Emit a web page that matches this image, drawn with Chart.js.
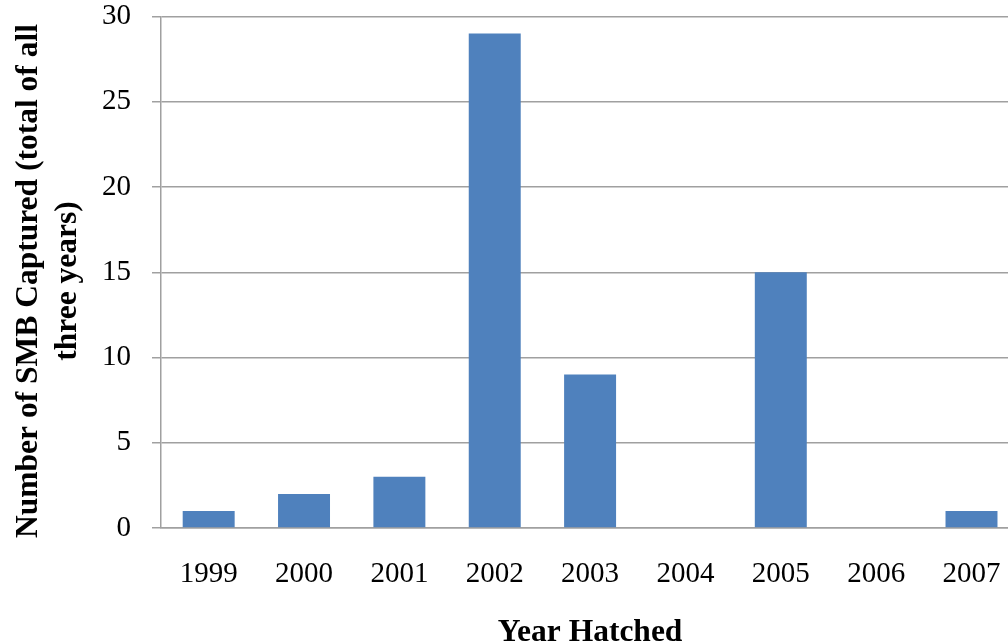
<!DOCTYPE html>
<html>
<head>
<meta charset="utf-8">
<script src="https://cdn.jsdelivr.net/npm/chart.js@4"></script>
<style>
  html, body { margin: 0; padding: 0; background: #fff; overflow: hidden; }
  #wrap { width: 1030px; height: 642px; }
</style>
</head>
<body>
<div id="wrap"><canvas id="smbChart" width="1030" height="642"></canvas></div>
<script>
var yearsHatched = ["1999","2000","2001","2002","2003","2004","2005","2006","2007"];
var smbCaptured = [1, 2, 3, 29, 9, 0, 15, 0, 1];
var yTitleLines = ["Number of SMB Captured (total of all", "three years)"];
var xTitle = "Year Hatched";

var serif = "'Liberation Serif', 'Times New Roman', serif";

// axis titles drawn by hand so they sit where the original puts them
var axisTitles = {
  id: 'axisTitles',
  afterDraw: function(chart) {
    var ctx = chart.ctx;
    var area = chart.chartArea;
    ctx.save();
    ctx.fillStyle = '#000';
    ctx.font = "bold 31.5px " + serif;
    ctx.textAlign = 'center';
    ctx.textBaseline = 'middle';
    ctx.fillText(xTitle, (area.left + area.right) / 2, 633);
    ctx.translate(0, 281);
    ctx.rotate(-Math.PI / 2);
    ctx.fillText(yTitleLines[0], 0, 29);
    ctx.fillText(yTitleLines[1], 0, 68);
    ctx.restore();
  }
};

var canvas = document.getElementById('smbChart');
var ctx = canvas.getContext('2d');

var chart = new Chart(ctx, {
  type: 'bar',
  data: {
    labels: yearsHatched,
    datasets: [{
      data: smbCaptured,
      backgroundColor: '#4f81bd',
      borderWidth: 0,
      categoryPercentage: 1,
      barPercentage: 0.545
    }]
  },
  options: {
    responsive: false,
    animation: false,
    layout: { padding: { left: 0, top: 16.5, right: 9, bottom: 0 } },
    plugins: {
      legend: { display: false },
      tooltip: { enabled: false }
    },
    scales: {
      x: {
        grid: { display: false, drawTicks: false },
        border: { display: true, color: '#a0a0a0', width: 1.5 },
        ticks: { color: '#000', padding: 29, maxRotation: 0, font: { family: serif, size: 29 } },
        afterFit: function(scale) { scale.height = 114; }
      },
      y: {
        min: 0,
        max: 30,
        ticks: { stepSize: 5, color: '#000', padding: 21, font: { family: serif, size: 29 } },
        grid: { color: '#a0a0a0', lineWidth: 1.5, tickLength: 9 },
        border: { display: true, color: '#a0a0a0', width: 1.5 },
        afterFit: function(scale) {
          scale.width = 161;
          scale.paddingTop = 0;
        }
      }
    }
  },
  plugins: [axisTitles]
});
</script>
</body>
</html>
